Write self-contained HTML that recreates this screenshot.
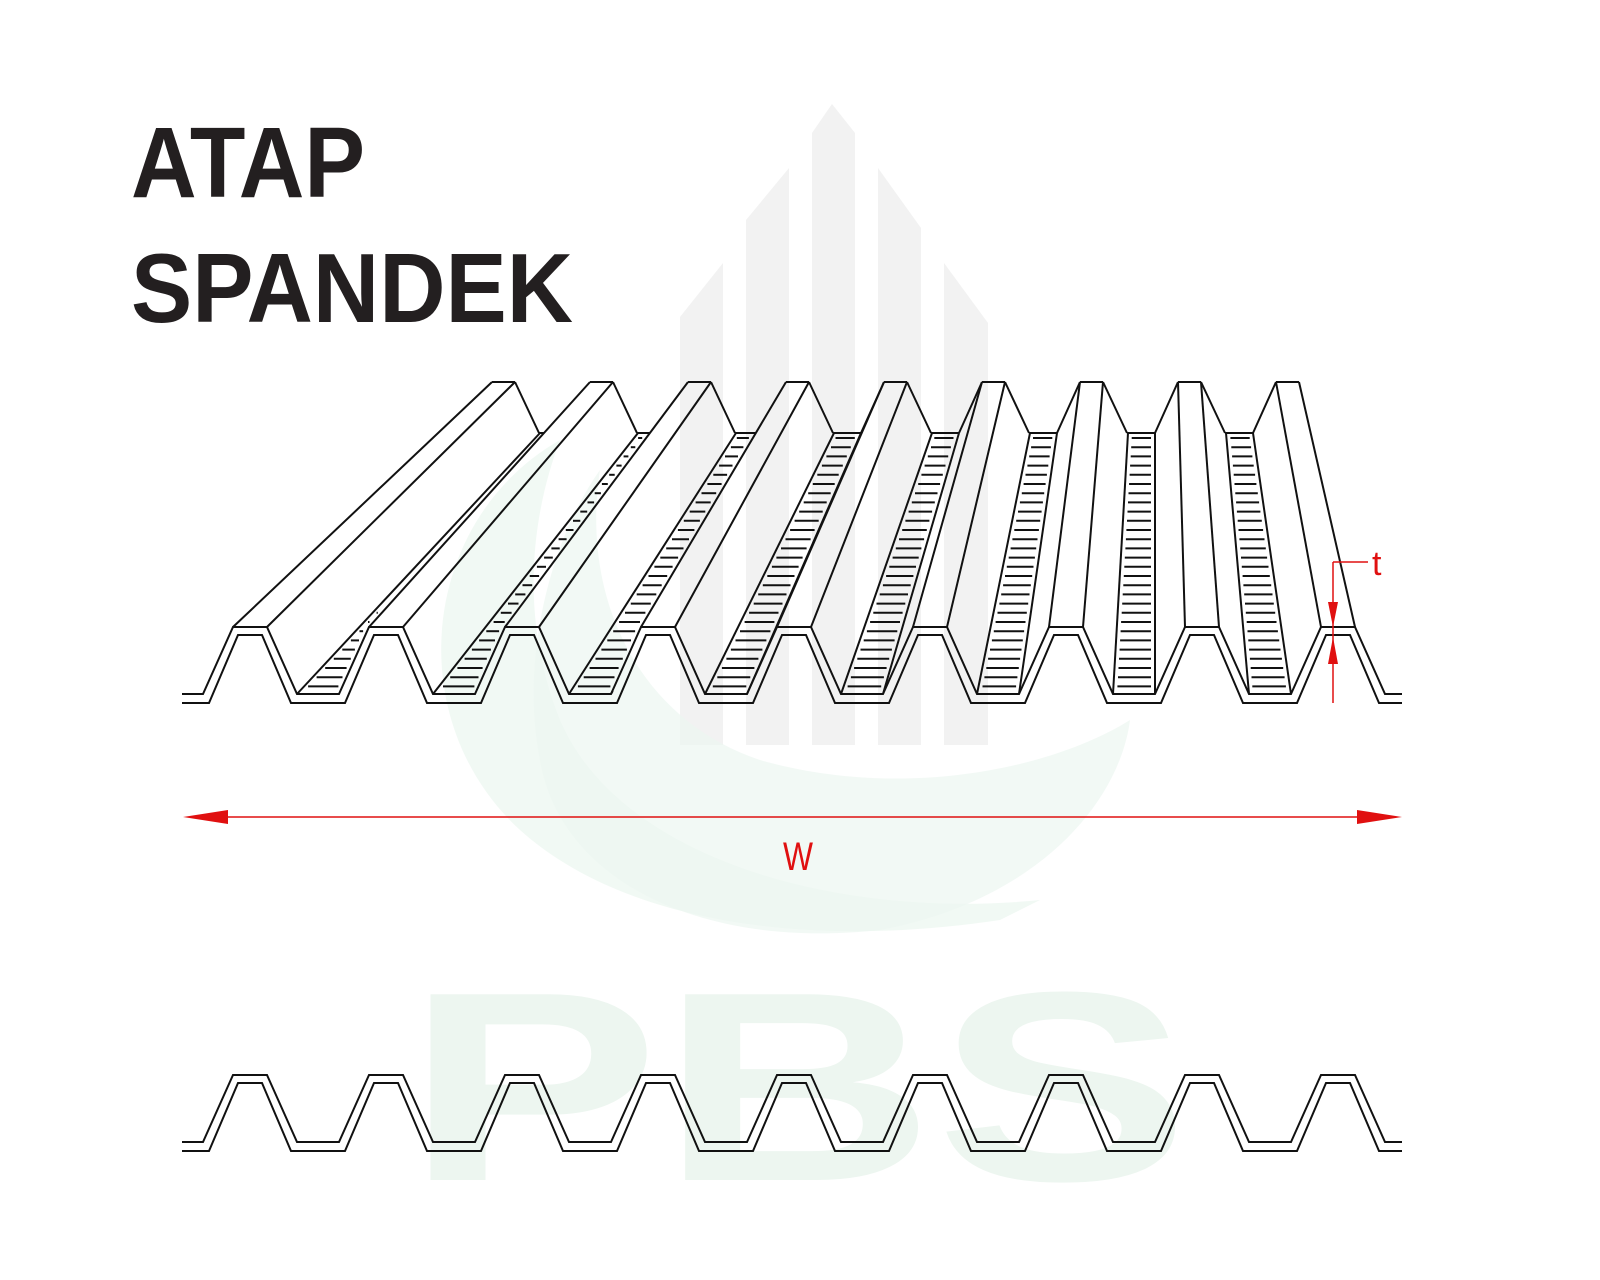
<!DOCTYPE html>
<html><head><meta charset="utf-8"><style>
html,body{margin:0;padding:0;background:#fff;}
svg{display:block;}
</style></head><body>
<svg id="s" width="1600" height="1280" viewBox="0 0 1600 1280" xmlns="http://www.w3.org/2000/svg">
<rect width="1600" height="1280" fill="#fff"/>
<g fill="#f2f2f2">
<polygon points="680,317 723,263 723,745 680,745"/>
<polygon points="746,220 789,168 789,745 746,745"/>
<polygon points="812,133 832,104 855,133 855,745 812,745"/>
<polygon points="878,168 921,228 921,745 878,745"/>
<polygon points="944,263 988,323 988,745 944,745"/>
</g>
<path d="M560,440 C420,520 400,720 520,830 C620,920 800,950 1000,920 L1040,900 C840,920 620,860 560,720 C520,620 530,520 560,440 Z" fill="#edf7f1" opacity="0.8"/>
<path d="M600,470 C580,600 640,720 760,760 C900,800 1050,770 1130,720 C1120,800 1040,900 880,930 C700,950 560,880 540,760 C520,660 550,540 600,470 Z" fill="#edf7f1" opacity="0.7"/>
<text x="405" y="1180" font-family="Liberation Sans, sans-serif" font-weight="bold" font-size="270" fill="#edf6f0" textLength="785" lengthAdjust="spacingAndGlyphs">PBS</text>
<text x="131" y="197" font-family="Liberation Sans, sans-serif" font-weight="bold" font-size="100" fill="#231f20" textLength="234" lengthAdjust="spacingAndGlyphs">ATAP</text>
<text x="131" y="322" font-family="Liberation Sans, sans-serif" font-weight="bold" font-size="98" fill="#231f20" textLength="442" lengthAdjust="spacingAndGlyphs">SPANDEK</text>
<g id="draw" stroke="#111" stroke-width="2" fill="none" stroke-linejoin="miter"></g>
<g stroke="#e01010" fill="#e01010">
<line x1="195" y1="817" x2="1390" y2="817" stroke-width="1.5"/>
<polygon points="183,817 228,810 228,824" stroke="none"/>
<polygon points="1402,817 1357,810 1357,824" stroke="none"/>
<line x1="1333" y1="562" x2="1368" y2="562" stroke-width="1.5"/>
<line x1="1333" y1="562" x2="1333" y2="703" stroke-width="1.5"/>
<polygon points="1333,627 1328,602 1338,602" stroke="none"/>
<polygon points="1333,637 1328,664 1338,664" stroke="none"/>
</g>
<text x="1372" y="575" font-family="Liberation Sans, sans-serif" font-size="34" fill="#e01010">t</text>
<text x="798" y="870" text-anchor="middle" font-family="Liberation Sans, sans-serif" font-size="40" fill="#e01010" textLength="30" lengthAdjust="spacingAndGlyphs">W</text>
</svg>
<script>
(function(){
var g=document.getElementById('draw'),out='';
function L(a,b,c,d){out+='<line x1="'+a.toFixed(1)+'" y1="'+b.toFixed(1)+'" x2="'+c.toFixed(1)+'" y2="'+d.toFixed(1)+'"/>';}
function PL(pts){out+='<polyline points="'+pts.map(function(p){return p[0].toFixed(1)+','+p[1].toFixed(1);}).join(' ')+'"/>';}
var TF=627,VF=694,TB=382,VB=433,N=9;
var P=[],B=[];for(var k=0;k<N;k++){P.push(233+136*k);B.push(492+98*k);}
function lx(xf,yf,xb,yb,y){return xf+(xb-xf)*(yf-y)/(yf-yb);}
function A(k,y){return lx(P[k],TF,B[k],TB,y);}
function V1(k,y){return lx(P[k]+64,VF,B[k]+48,VB,y);}
function V2(k,y){return lx(P[k]+106,VF,B[k]+75,VB,y);}
function FS(k,y){return P[k]+106+30*(VF-y)/(VF-TF);}
for(var k=0;k<N;k++){
 L(P[k],TF,B[k],TB);
 L(P[k]+34,TF,B[k]+23,TB);
 L(B[k],TB,B[k]+23,TB);
 if(k<N-1){
  L(B[k]+23,TB,B[k]+47,VB);
  L(P[k]+64,VF,B[k]+48,VB);
  var yStop=VF;
  for(var y=VF;y>=VB;y-=1){
    var xr=(y>TF)?FS(k,y):A(k+1,y);
    if(V2(k,y)<=xr+0.5)yStop=y;else break;
  }
  if(yStop<VF-2)L(P[k]+106,VF,V2(k,yStop),yStop);
  var aB=A(k+1,VB);
  if(yStop<=VB+1){
    L(B[k]+47,VB,B[k]+75,VB);
    L(B[k]+75,VB,B[k]+98,TB);
  } else {
    var e=Math.min(B[k]+75,aB);
    if(e>B[k]+47)L(B[k]+47,VB,e,VB);
  }
  for(var y=VB+5;y<=VF-4;y+=9.2){
    var xl=V1(k,y);
    var xr=V2(k,y);
    var lim=(y>TF)?FS(k,y):A(k+1,y);
    if(lim<xr)xr=lim;
    if(xr-xl>9)L(xl+4,y,xr-4,y);
  }
 }
}
function prof(dy){
 var o=[[182,VF+dy],[P[0]-30,VF+dy]],i=[[182,VF+9+dy],[P[0]-24,VF+9+dy]];
 for(var k=0;k<N;k++){
  var p=P[k];
  o.push([p,TF+dy],[p+34,TF+dy],[p+64,VF+dy]);
  i.push([p+5,TF+8+dy],[p+29,TF+8+dy],[p+58,VF+9+dy]);
  if(k<N-1){o.push([p+106,VF+dy]);i.push([p+112,VF+9+dy]);}
 }
 o.push([1402,VF+dy]);i.push([1402,VF+9+dy]);
 PL(o);PL(i);
}
prof(0);prof(448);
g.innerHTML=out;
})();
</script>
</body></html>
